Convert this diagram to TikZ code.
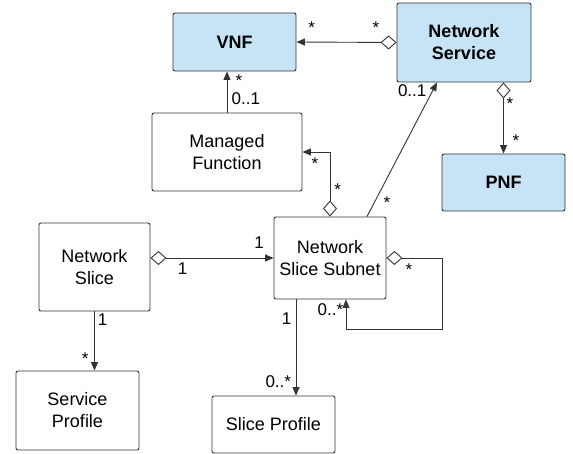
\documentclass[tikz,border=0pt]{standalone}
\usepackage{fontspec}
\setmainfont{Liberation Sans}
\usetikzlibrary{arrows.meta}

\definecolor{boxblue}{RGB}{199,227,246}
\definecolor{edge}{RGB}{51,51,51}

\tikzset{
  cls/.style={draw=edge, line width=0.9pt, rounded corners=2pt, align=center,
    font=\fontsize{18}{22}\selectfont, inner sep=0pt},
  hl/.style={cls, fill=boxblue, font=\fontsize{18}{22}\selectfont\bfseries},
  link/.style={draw=edge, line width=0.9pt, -{Triangle[length=8.5pt,width=7pt]}},
  agg/.style={link, {Diamond[open,length=16pt,width=14pt]}-{Triangle[length=8.5pt,width=7pt]}},
  mult/.style={anchor=base, inner sep=0pt, font=\fontsize{17}{20}\selectfont}
}

\begin{document}
\begin{tikzpicture}[x=1pt, y=-1pt]
  \useasboundingbox (0,0) rectangle (573,454);

  % classes
  \node[hl,  minimum width=123pt, minimum height=58pt] (vnf)   at (234.5,42)  {VNF};
  \node[hl,  minimum width=134pt, minimum height=79pt] (ns)    at (464,42.5)  {Network\\Service};
  \node[hl,  minimum width=123pt, minimum height=57pt] (pnf)   at (503.5,182.5) {PNF};
  \node[cls, minimum width=150pt, minimum height=78pt] (mf)    at (227,152)   {Managed\\Function};
  \node[cls, minimum width=112pt, minimum height=82pt] (nss)   at (330,258)   {Network\\Slice Subnet};
  \node[cls, minimum width=111pt, minimum height=88pt] (nsl)   at (94.5,267)  {Network\\Slice};
  \node[cls, minimum width=123pt, minimum height=79pt] (svp)   at (77.5,410.5) {Service\\Profile};
  \node[cls, minimum width=123pt, minimum height=57pt] (slp)   at (273.5,424.5) {Slice Profile};

  % associations
  \draw[agg]  (ns.west) -- (vnf.west -| vnf.east);
  \draw[link] (mf.north) -- (mf.north |- vnf.south);
  \draw[agg]  (nss.north) |- (mf.east);
  \draw[link] ([xshift=37pt]nss.north) -- ([xshift=-27pt]ns.south);
  \draw[agg]  (nss.west -| nsl.east) -- (nss.west);
  \draw[agg]  (pnf.north |- ns.south) -- (pnf.north);
  \draw[link] (nsl.south) -- (nsl.south |- svp.north);
  \coordinate (slpx) at ([xshift=-34pt]nss.south);
  \draw[link] (slpx) -- (slpx |- slp.north);
  \coordinate (loopend) at ([xshift=16pt]nss.south);
  \draw[agg]  (nss.east) -- ++(56,0) coordinate (loopr) -- (loopr |- 0,329) -| (loopend);

  % multiplicities
  \node[mult] (m1)  at (311.7,33.5)  {*};
  \node[mult] (m2)  at (376,33.5)    {*};
  \node[mult] (m3)  at (239,86.5)    {*};
  \node[mult] (m4)  at (245.8,105)   {0..1};
  \node[mult] (m5)  at (315,169.5)   {*};
  \node[mult] (m6)  at (337.7,196)   {*};
  \node[mult] (m7)  at (387,208.5)   {*};
  \node[mult] (m8)  at (412.2,96.7)  {0..1};
  \node[mult] (m9)  at (510,109.5)   {*};
  \node[mult] (m10) at (516,146.5)   {*};
  \node[mult] (m11) at (259,248.3)   {1};
  \node[mult] (m12) at (182.5,275)   {1};
  \node[mult] (m13) at (409,276)     {*};
  \node[mult] (m14) at (330.5,315.5) {0..*};
  \node[mult] (m15) at (286.7,324)   {1};
  \node[mult] (m16) at (278.3,387.3) {0..*};
  \node[mult] (m17) at (102.7,326)   {1};
  \node[mult] (m18) at (85.3,364)    {*};
\end{tikzpicture}
\end{document}
